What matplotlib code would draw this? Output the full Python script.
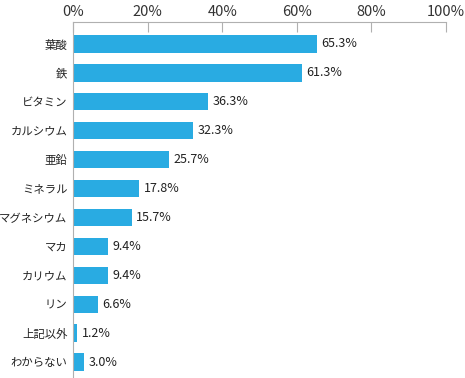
"""Horizontal bar chart of supplement ingredients (percent)."""

import matplotlib
matplotlib.use("Agg")
import matplotlib.pyplot as plt

plt.rcParams["font.family"] = ["Noto Sans CJK JP", "DejaVu Sans"]

categories = ["葉酸", "鉄", "ビタミン", "カルシウム", "亜鉛", "ミネラル",
              "マグネシウム", "マカ", "カリウム", "リン", "上記以外", "わからない"]
values = [65.3, 61.3, 36.3, 32.3, 25.7, 17.8, 15.7, 9.4, 9.4, 6.6, 1.2, 3.0]
xticks = [0, 20, 40, 60, 80, 100]
xtick_labels = ["0%", "20%", "40%", "60%", "80%", "100%"]

BAR = "#29abe2"
GRAY = "#b0b0b0"

fig = plt.figure(figsize=(4.65, 3.78), dpi=100)
ax = fig.add_axes([73 / 465, 0, 373 / 465, 1 - 22 / 378])

pos = list(range(len(categories)))
ax.barh(pos, values, height=0.6, color=BAR)
for p, v in zip(pos, values):
    ax.text(v + 1.2, p, f"{v:.1f}%", va="center", ha="left", fontsize=9, color="#222222")

ax.set_xlim(0, 100)
ax.set_ylim(11.55, -0.76)
ax.set_yticks(pos)
ax.set_yticklabels(categories, fontsize=8.2, color="#222222")
ax.tick_params(axis="y", length=0, pad=4)

ax.xaxis.tick_top()
ax.set_xticks(xticks)
ax.set_xticklabels(xtick_labels, fontsize=10.5, color="#333333")
ax.tick_params(axis="x", direction="in", length=7, color=GRAY, width=0.8, pad=2)

for side in ["right", "bottom"]:
    ax.spines[side].set_visible(False)
for side in ["top", "left"]:
    ax.spines[side].set_color(GRAY)
    ax.spines[side].set_linewidth(0.8)

fig.savefig("out.png", dpi=100)
